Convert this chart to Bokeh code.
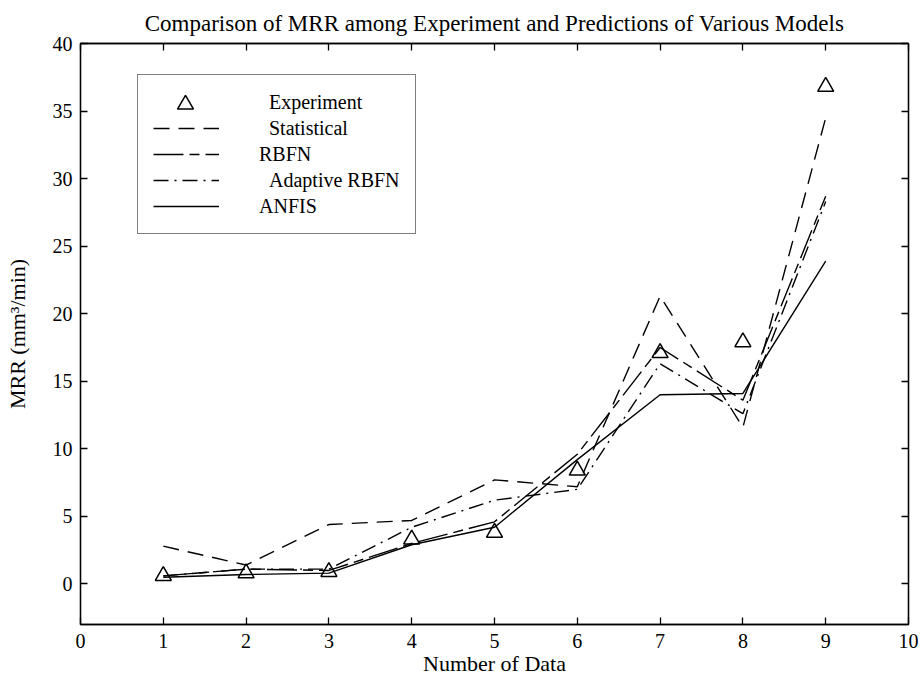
from bokeh.plotting import figure
from bokeh.models import (Range1d, LinearAxis, FixedTicker, Legend, LegendItem,
                          CustomJSTickFormatter)
from bokeh.embed import file_html
from bokeh.resources import INLINE

# MRR per sample (mm^3/min)
data_index = [1, 2, 3, 4, 5, 6, 7, 8, 9]
experiment = [0.6, 0.8, 0.9, 3.3, 3.8, 8.4, 17.1, 17.9, 36.8]
statistical = [2.8, 1.4, 4.4, 4.7, 7.7, 7.2, 21.3, 11.6, 34.5]
rbfn = [0.6, 1.1, 1.0, 3.0, 4.6, 9.6, 17.5, 13.6, 28.7]
adaptive_rbfn = [0.6, 1.1, 1.1, 4.2, 6.2, 7.0, 16.3, 12.6, 28.3]
anfis = [0.5, 0.7, 0.8, 2.9, 4.2, 9.2, 14.0, 14.1, 23.9]

x_ticks = list(range(0, 11))
y_ticks = list(range(0, 41, 5))

TITLE = "Comparison of MRR among Experiment and Predictions of Various Models"
FONT = "Liberation Serif"

p = figure(width=924, height=683, output_backend="svg", toolbar_location=None,
           x_range=Range1d(0, 10), y_range=Range1d(-3, 40),
           min_border_left=80, min_border_right=16, min_border_top=43, min_border_bottom=59,
           title=TITLE)

p.title.text_font = FONT
p.title.text_font_size = "23px"
p.title.text_font_style = "normal"
p.title.text_line_height = 0.8
p.title.align = "center"
p.title.offset = 6
p.title.text_color = "black"
p.title.standoff = 16

p.xgrid.visible = False
p.ygrid.visible = False
p.outline_line_color = "black"
p.outline_line_width = 1.3
p.background_fill_color = "white"
p.border_fill_color = "white"

for ax, ticks in ((p.xaxis[0], x_ticks), (p.yaxis[0], y_ticks)):
    ax.ticker = FixedTicker(ticks=ticks)
    ax.major_tick_in = 7
    ax.major_tick_out = 0
    ax.minor_tick_in = 0
    ax.minor_tick_out = 0
    ax.axis_line_color = "black"
    ax.axis_line_width = 1.3
    ax.major_tick_line_width = 1.3
    ax.major_label_text_font = FONT
    ax.major_label_text_font_size = "20px"
    ax.major_label_text_color = "black"
    ax.axis_label_text_font = FONT
    ax.axis_label_text_font_size = "22px"
    ax.axis_label_text_font_style = "normal"
    ax.axis_label_text_color = "black"

p.xaxis.axis_label = "Number of Data"
p.xaxis.major_label_standoff = 9
p.xaxis.axis_label_standoff = 0
p.yaxis.axis_label = "MRR (mm\u00b3/min)"
p.yaxis.major_label_standoff = 8
p.yaxis.axis_label_standoff = 20

# mirrored tick marks on the top and right edges of the box
blank = CustomJSTickFormatter(code="return ''")
for side, ticks in (("right", y_ticks), ("above", x_ticks)):
    ax = LinearAxis(ticker=FixedTicker(ticks=ticks), formatter=blank)
    ax.major_tick_in = 7
    ax.major_tick_out = 0
    ax.minor_tick_in = 0
    ax.minor_tick_out = 0
    ax.major_label_standoff = 0
    ax.major_label_text_font_size = "1px"
    ax.axis_line_width = 1.3
    ax.major_tick_line_width = 1.3
    p.add_layout(ax, side)

lw = 1.4
r_stat = p.line(data_index, statistical, line_color="black", line_width=lw, line_dash="16 9")
r_rbfn = p.line(data_index, rbfn, line_color="black", line_width=lw, line_dash="30 6 10 6")
r_adap = p.line(data_index, adaptive_rbfn, line_color="black", line_width=lw, line_dash="15 6 2 6")
r_anfis = p.line(data_index, anfis, line_color="black", line_width=lw)
r_exp = p.scatter(data_index, experiment, marker="triangle", size=16,
                  fill_color=None, line_color="black", line_width=1.5)
# placeholder keeping the first legend row free for the triangle key drawn on top
r_blank = p.line(x=[], y=[], line_alpha=0)

nb = "\u00a0\u00a0"
legend = Legend(items=[
    LegendItem(label=nb + "Experiment", renderers=[r_blank]),
    LegendItem(label=nb + "Statistical", renderers=[r_stat]),
    LegendItem(label="RBFN", renderers=[r_rbfn]),
    LegendItem(label=nb + "Adaptive RBFN", renderers=[r_adap]),
    LegendItem(label="ANFIS", renderers=[r_anfis]),
], location=(57, 390))
legend.label_text_font = FONT
legend.label_text_font_size = "20px"
legend.label_text_color = "black"
legend.glyph_width = 66
legend.glyph_height = 24
legend.label_height = 24
legend.spacing = 2
legend.padding = 15
legend.margin = 0
legend.label_standoff = 40
legend.border_line_color = "black"
legend.border_line_width = 1.5
legend.background_fill_color = "white"
legend.background_fill_alpha = 1
p.add_layout(legend)

# triangle key: a taller glyph box so the marker is drawn at full size
marker_key = Legend(items=[LegendItem(label="\u00a0", renderers=[r_exp])], location=(72, 500))
marker_key.glyph_width = 66
marker_key.glyph_height = 40
marker_key.label_height = 40
marker_key.label_standoff = 0
marker_key.label_text_font_size = "1px"
marker_key.padding = 0
marker_key.margin = 0
marker_key.spacing = 0
marker_key.border_line_alpha = 0
marker_key.background_fill_alpha = 0
p.add_layout(marker_key)

open("out.html", "w").write(file_html(p, INLINE))
